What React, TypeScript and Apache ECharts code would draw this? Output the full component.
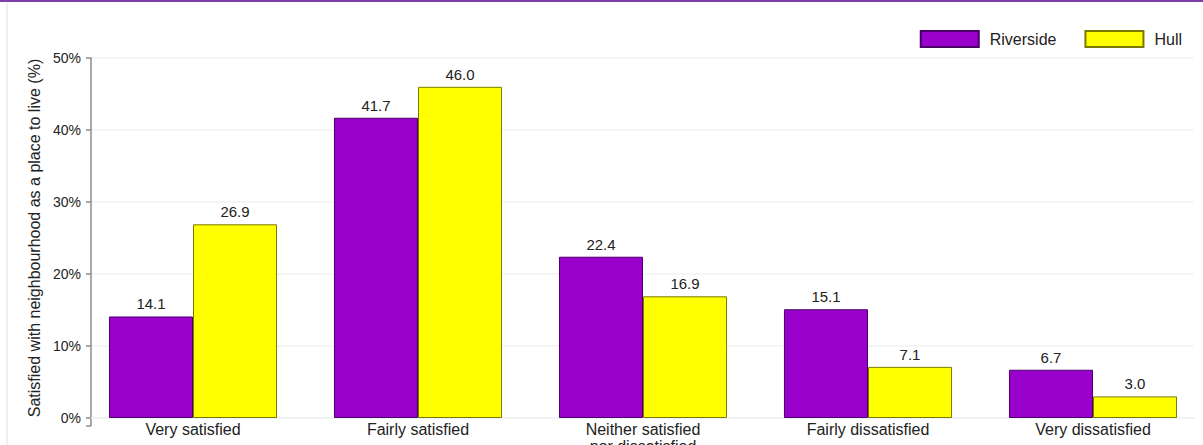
import React, { useEffect, useRef } from "react";
import * as echarts from "echarts";

const categories = [
  "Very satisfied",
  "Fairly satisfied",
  "Neither satisfied\nnor dissatisfied",
  "Fairly dissatisfied",
  "Very dissatisfied",
];
const riverside = [14.1, 41.7, 22.4, 15.1, 6.7];
const hull = [26.9, 46.0, 16.9, 7.1, 3.0];
const yTicks = [0, 10, 20, 30, 40, 50];

const FONT = "'Liberation Sans', Arial, sans-serif";

export default function App() {
  const ref = useRef<HTMLDivElement>(null);
  useEffect(() => {
    if (!ref.current) return;
    const chart = echarts.init(ref.current, undefined, { renderer: "svg" });
    const yMin = yTicks[0];
    const yMax = yTicks[yTicks.length - 1];
    const valueLabel = {
      show: true,
      position: "top",
      distance: 5,
      fontSize: 15,
      color: "#222",
      fontFamily: FONT,
      formatter: (p: any) => Number(p.value).toFixed(1),
    };
    const option: any = {
      animation: false,
      backgroundColor: "#ffffff",
      textStyle: { fontFamily: FONT },
      legend: {
        top: 25,
        right: 16,
        itemWidth: 58,
        itemHeight: 16,
        itemGap: 28,
        icon: "rect",
        textStyle: { fontSize: 16, color: "#222", fontFamily: FONT, padding: [0, 0, 0, 6] },
        data: ["Riverside", "Hull"],
      },
      grid: [
        { left: 91, right: 9, top: 58, bottom: 27, containLabel: false, outerBoundsMode: "none" },
        { left: 80.5, width: 1125, top: 58, bottom: 27, containLabel: false, outerBoundsMode: "none" },
      ],
      xAxis: [
        {
          gridIndex: 0,
          type: "value",
          min: 0,
          max: 1,
          offset: 8,
          axisLine: { show: true, lineStyle: { color: "#eef2f2", width: 1.5 } },
          axisTick: { show: false },
          axisLabel: { show: false },
          splitLine: { show: false },
        },
        {
          gridIndex: 1,
          type: "category",
          data: categories,
          axisLine: { show: false },
          axisTick: { show: false },
          axisLabel: {
            fontSize: 16,
            color: "#222",
            fontFamily: FONT,
            margin: 3,
            lineHeight: 17,
            interval: 0,
            verticalAlign: "top",
          },
        },
      ],
      yAxis: [
        {
          gridIndex: 0,
          type: "value",
          min: yMin,
          max: yMax,
          interval: 10,
          name: "Satisfied with neighbourhood as a place to live (%)",
          nameLocation: "middle",
          nameGap: 45,
          nameTextStyle: { fontSize: 16, color: "#222", fontFamily: FONT },
          axisLine: { show: true, lineStyle: { color: "#8c8c8c", width: 1.5 } },
          axisTick: { show: true, length: 5, lineStyle: { color: "#8c8c8c", width: 1.5 } },
          axisLabel: {
            fontSize: 14,
            color: "#222",
            fontFamily: FONT,
            margin: 10,
            formatter: (v: number) => v + "%",
          },
          splitLine: { show: true, lineStyle: { color: "#f0f3f3", width: 1.5 } },
        },
        {
          gridIndex: 1,
          type: "value",
          min: yMin,
          max: yMax,
          show: false,
          splitLine: { show: false },
        },
      ],
      series: [
        {
          name: "Riverside",
          type: "bar",
          xAxisIndex: 1,
          yAxisIndex: 1,
          data: riverside,
          barGap: "0%",
          barCategoryGap: "25.3%",
          itemStyle: { color: "#9900cc", borderColor: "#4a0066", borderWidth: 1 },
          label: valueLabel,
        },
        {
          name: "Hull",
          type: "bar",
          xAxisIndex: 1,
          yAxisIndex: 1,
          data: hull,
          barGap: "0%",
          barCategoryGap: "25.3%",
          itemStyle: { color: "#ffff00", borderColor: "#7a7a00", borderWidth: 1 },
          label: valueLabel,
        },
      ],
      graphic: [
        { type: "rect", left: 0, top: 0, shape: { width: 1203, height: 2 }, style: { fill: "#7b3fa6" }, silent: true },
        { type: "rect", left: 6, top: 3, shape: { width: 2, height: 442 }, style: { fill: "#eef0f0" }, silent: true },
        { type: "line", shape: { x1: 91, y1: 418, x2: 91, y2: 426 }, style: { stroke: "#8c8c8c", lineWidth: 1.5 }, silent: true },
        { type: "line", shape: { x1: 86, y1: 426, x2: 91, y2: 426 }, style: { stroke: "#8c8c8c", lineWidth: 1.5 }, silent: true },
      ],
    };
    chart.setOption(option);
    return () => chart.dispose();
  }, []);
  return (
    <div
      ref={ref}
      style={{ position: "fixed", left: 0, top: 0, width: 1203, height: 445, background: "#fff" }}
    />
  );
}
